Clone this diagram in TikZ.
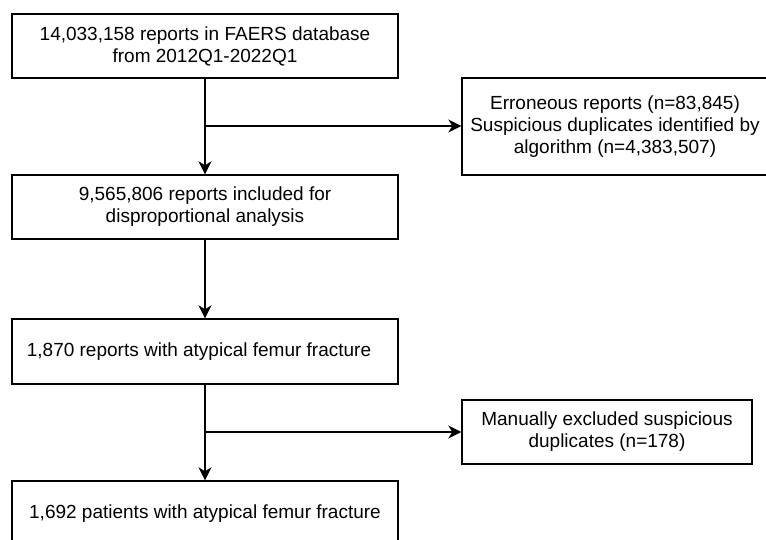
\documentclass[tikz,border=0pt]{standalone}
\usepackage{fontspec}
\setmainfont{Liberation Sans}
\usetikzlibrary{arrows.meta}
\begin{document}
\begin{tikzpicture}[x=1pt,y=-1pt,
  box/.style={draw=black,line width=1.4pt,fill=white,align=center,inner sep=0pt,
    font=\fontsize{19}{22}\selectfont},
  arr/.style={line width=1.4pt,-{Stealth[length=13pt,width=13pt,inset=4pt]}},
  ln/.style={line width=1.4pt}]
\useasboundingbox (0,0) rectangle (766,540);
\fill[white] (0,0) rectangle (766,540);
\node[box,minimum width=386pt,minimum height=64pt] (b1) at (205,46)
  {14,033,158 reports in FAERS database\\from 2012Q1-2022Q1};
\node[box,minimum width=386pt,minimum height=64pt] (b2) at (205,207)
  {9,565,806 reports included for\\disproportional analysis};
\node[box,minimum width=386pt,minimum height=65pt] (b3) at (205,351.5)
  {\hspace*{-12pt}1,870 reports with atypical femur fracture};
\node[box,minimum width=386pt,minimum height=65pt] (b4) at (205,513.5)
  {1,692 patients with atypical femur fracture};
\node[box,minimum width=306pt,minimum height=97pt] (e1) at (615,126.5)
  {Erroneous reports (n=83,845)\\Suspicious duplicates identified by\\algorithm (n=4,383,507)};
\node[box,minimum width=290pt,minimum height=64pt] (e2) at (607,432)
  {Manually excluded suspicious\\duplicates (n=178)};
\coordinate (j1) at (205,126);
\coordinate (j2) at (205,432);
\draw[arr] (b1.south) -- (b2.north);
\draw[arr] (j1) -- (e1.west |- j1);
\draw[arr] (b2.south) -- (b3.north);
\draw[arr] (b3.south) -- (b4.north);
\draw[arr] (j2) -- (e2.west);
\end{tikzpicture}
\end{document}
